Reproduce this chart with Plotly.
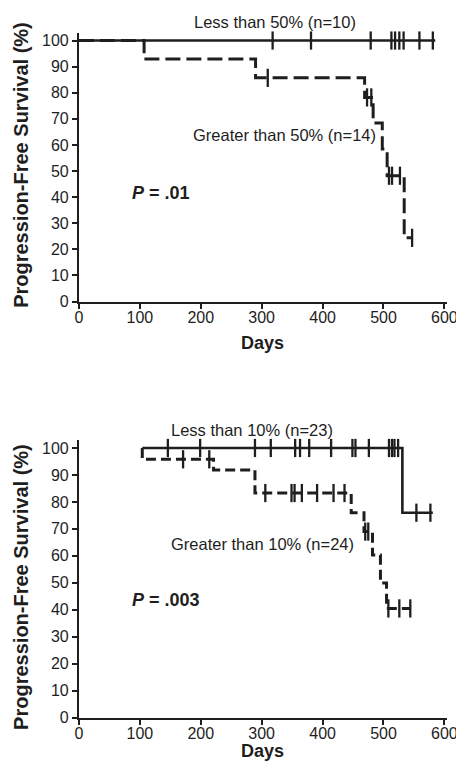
import plotly.graph_objects as go

# ---------------- data ----------------
# Top panel
top_less_t = [0, 585]
top_less_s = [100, 100]
top_less_cens_t = [318, 381, 479, 513, 519, 526, 533, 559, 581]
top_less_cens_s = [100, 100, 100, 100, 100, 100, 100, 100, 100]

top_greater_t = [0, 107, 290, 469, 483, 498, 506, 534, 548]
top_greater_s = [100, 92.9, 85.7, 78.2, 68.4, 58.4, 48.2, 24.4, 24.4]
top_greater_cens_t = [310, 473, 480, 509, 514, 527, 547]
top_greater_cens_s = [85.7, 78.2, 78.2, 48.2, 48.2, 48.2, 24.4]

# Bottom panel
bot_less_t = [104, 531, 581]
bot_less_s = [100, 76.0, 76.0]
bot_less_cens_t = [146, 199, 289, 315, 355, 363, 378, 414, 449, 454, 476,
                   509, 514, 518, 524, 554, 577]
bot_less_cens_s = [100] * 15 + [76.0, 76.0]

bot_greater_t = [104, 104, 221, 289, 447, 468, 482, 495, 505, 545]
bot_greater_s = [100, 95.8, 91.8, 83.3, 76.0, 69.0, 60.3, 49.9, 40.5, 40.5]
bot_greater_cens_t = [171, 214, 306, 349, 354, 366, 391, 418, 436, 470, 475,
                      508, 526, 544]
bot_greater_cens_s = [95.8, 95.8, 83.3, 83.3, 83.3, 83.3, 83.3, 83.3, 83.3,
                      69.0, 69.0, 40.5, 40.5, 40.5]

x_ticks = [0, 100, 200, 300, 400, 500, 600]
y_ticks = [0, 10, 20, 30, 40, 50, 60, 70, 80, 90, 100]

# ---------------- styling ----------------
W, H = 464, 771
INK = "#1e1e1e"
FONT = "Liberation Sans, Arial, sans-serif"


def px_x(p):
    return p / W


def px_y(p):
    return 1 - p / H


fig = go.Figure()


def add_curve(t, s, xa, ya, dash, width):
    fig.add_trace(go.Scatter(x=t, y=s, mode="lines", line_shape="hv",
                             line=dict(color=INK, width=width, dash=dash),
                             xaxis=xa, yaxis=ya, showlegend=False,
                             hoverinfo="skip", cliponaxis=False))


def add_cens(t, s, xa, ya):
    fig.add_trace(go.Scatter(x=t, y=s, mode="markers",
                             marker=dict(symbol="line-ns", size=13,
                                         line=dict(color=INK, width=2.3)),
                             xaxis=xa, yaxis=ya, showlegend=False,
                             hoverinfo="skip", cliponaxis=False))


add_curve(top_greater_t, top_greater_s, "x", "y", "15px,6px", 3)
add_cens(top_greater_cens_t, top_greater_cens_s, "x", "y")
add_curve(top_less_t, top_less_s, "x", "y", "solid", 2.6)
add_cens(top_less_cens_t, top_less_cens_s, "x", "y")

add_curve(bot_greater_t, bot_greater_s, "x2", "y2", "10px,5px", 3)
add_cens(bot_greater_cens_t, bot_greater_cens_s, "x2", "y2")
add_curve(bot_less_t, bot_less_s, "x2", "y2", "solid", 2.6)
add_cens(bot_less_cens_t, bot_less_cens_s, "x2", "y2")

xdom = [px_x(69), px_x(449)]
common_x = dict(range=[0, 605], tickvals=x_ticks, showgrid=False, zeroline=False,
                showline=True, linewidth=2, linecolor=INK, ticks="outside",
                ticklen=5, tickwidth=2, tickcolor=INK, ticklabelstandoff=-5,
                tickfont=dict(family=FONT, size=16, color=INK), fixedrange=True)
common_y = dict(range=[0, 103], tickvals=y_ticks, showgrid=False, zeroline=False,
                showline=True, linewidth=2, linecolor=INK, ticks="outside",
                ticklen=5, tickwidth=2, tickcolor=INK,
                tickfont=dict(family=FONT, size=16, color=INK), fixedrange=True)

fig.update_layout(
    width=W, height=H, margin=dict(l=0, r=0, t=0, b=0),
    paper_bgcolor="white", plot_bgcolor="white", showlegend=False,
    xaxis=dict(domain=xdom, anchor="y", **common_x),
    yaxis=dict(domain=[px_y(297), px_y(25)], anchor="x", **common_y),
    xaxis2=dict(domain=xdom, anchor="y2", **common_x),
    yaxis2=dict(domain=[px_y(718), px_y(437)], anchor="x2", **common_y),
)

ann = []


def text(s, x, y, size, xanchor="center", angle=0):
    ann.append(dict(text=s, x=px_x(x), y=px_y(y), xref="paper", yref="paper",
                    xanchor=xanchor, yanchor="middle", showarrow=False,
                    textangle=angle,
                    font=dict(family=FONT, size=size, color=INK)))


text("Less than 50% (n=10)", 271, 14, 16.5)
text("Greater than 50% (n=14)", 281, 129, 16.5)
text("<b><i>P</i> = .01</b>", 122, 187, 18, xanchor="left")
text("<b>Days</b>", 258, 339, 18)
text("<b>Progression-Free Survival (%)</b>", 9, 159, 20, angle=-90)

text("Less than 10% (n=23)", 247, 427, 16.5)
text("Greater than 10% (n=24)", 258, 542, 16.5)
text("<b><i>P</i> = .003</b>", 122, 599, 18, xanchor="left")
text("<b>Days</b>", 258, 752, 18)
text("<b>Progression-Free Survival (%)</b>", 9, 586, 20, angle=-90)

fig.update_layout(annotations=ann)
fig.write_html("out.html")
